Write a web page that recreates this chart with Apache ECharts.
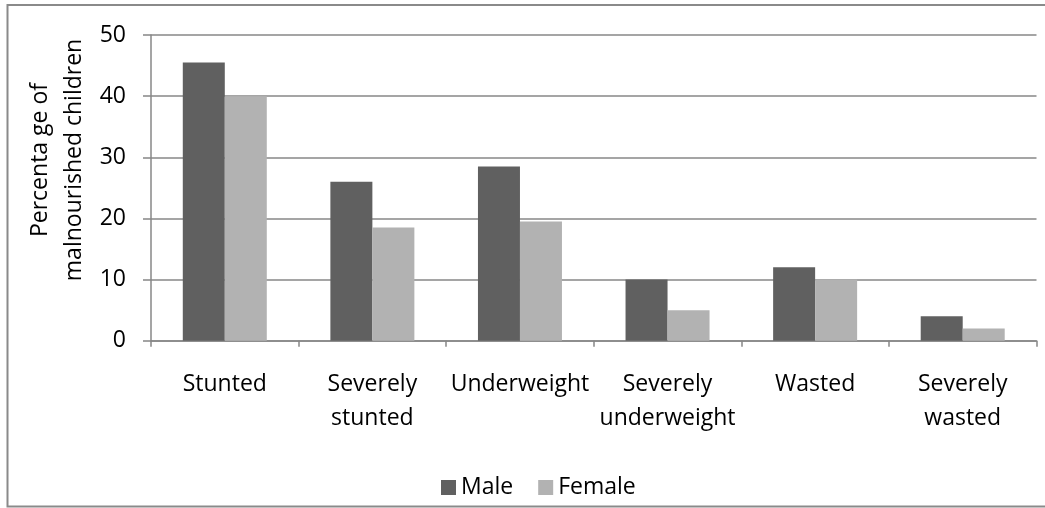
<!DOCTYPE html>
<html>
<head>
<meta charset="utf-8">
<script src="https://cdn.jsdelivr.net/npm/echarts@6/dist/echarts.min.js"></script>
<style>
  html, body { margin: 0; padding: 0; background: #fff; }
  #chart { width: 1045px; height: 508px; }
</style>
</head>
<body>
<div id="chart"></div>
<script>
// Malnutrition indicators by sex
const categories = ['Stunted', 'Severely\nstunted', 'Underweight', 'Severely\nunderweight', 'Wasted', 'Severely\nwasted'];
const maleValues = [45.5, 26, 28.5, 10, 12, 4];
const femaleValues = [40, 18.5, 19.5, 5, 10, 2];
const yTicks = [0, 10, 20, 30, 40, 50];

const FONT = '"Open Sans", "Liberation Sans", sans-serif';
const TEXT = '#000';
const LINE = '#878787';

const chart = echarts.init(document.getElementById('chart'), null, { renderer: 'canvas' });

chart.setOption({
  animation: false,
  backgroundColor: '#fff',
  textStyle: { fontFamily: FONT },
  grid: { left: 151, right: 8.5, top: 35, bottom: 167.3, containLabel: false },
  legend: {
    data: ['Male', 'Female'],
    left: 436,
    top: 471,
    itemWidth: 15,
    itemHeight: 15,
    itemGap: 25,
    icon: 'rect',
    textStyle: { fontFamily: FONT, fontSize: 23, color: TEXT }
  },
  xAxis: {
    type: 'category',
    data: categories,
    axisLine: { lineStyle: { color: LINE, width: 1.5 } },
    axisTick: { show: true, length: 6, lineStyle: { color: LINE, width: 1.5 } },
    axisLabel: { fontFamily: FONT, fontSize: 23, color: TEXT, lineHeight: 34, margin: 27, interval: 0 },
    splitLine: { show: false }
  },
  yAxis: {
    type: 'value',
    min: yTicks[0],
    max: yTicks[yTicks.length - 1],
    interval: 10,
    axisLine: { show: true, lineStyle: { color: LINE, width: 1.5 } },
    axisTick: { show: true, length: 8, lineStyle: { color: LINE, width: 1.5 } },
    axisLabel: { fontFamily: FONT, fontSize: 23, color: TEXT, margin: 25 },
    splitLine: { show: true, lineStyle: { color: LINE, width: 1.5 } }
  },
  series: [
    {
      name: 'Male', type: 'bar', data: maleValues,
      barWidth: 42, barGap: '0%',
      itemStyle: { color: '#606060' }
    },
    {
      name: 'Female', type: 'bar', data: femaleValues,
      barWidth: 42,
      itemStyle: { color: '#b2b2b2' }
    }
  ],
  graphic: [
    {
      type: 'rect', silent: true, z: -1,
      shape: { x: 7.5, y: 5, width: 1050, height: 501.5 },
      style: { fill: 'none', stroke: '#8a8a8a', lineWidth: 2 }
    },
    {
      type: 'text', silent: true,
      x: 57, y: 160, rotation: Math.PI / 2,
      style: {
        text: 'Percenta ge of\nmalnourished children',
        fontFamily: FONT, fontSize: 23, fill: TEXT,
        lineHeight: 34, align: 'center', verticalAlign: 'middle'
      }
    }
  ]
});
</script>
</body>
</html>
